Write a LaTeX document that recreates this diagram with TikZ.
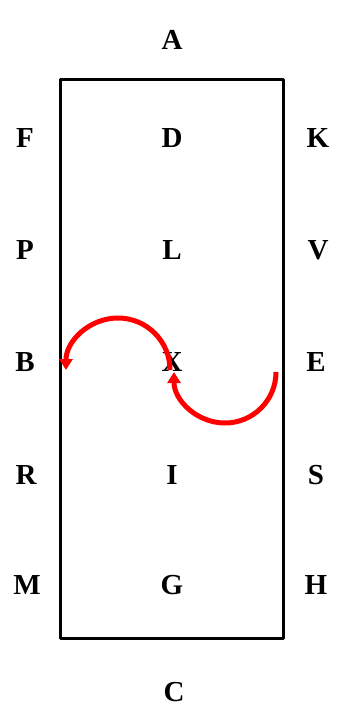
\documentclass[tikz,border=0pt]{standalone}
\usepackage{fontspec}
\setmainfont{Liberation Serif}
\usetikzlibrary{arrows.meta}
\begin{document}
\begin{tikzpicture}[x=1pt,y=-1pt,
  lab/.style={font=\fontsize{29}{32}\selectfont\bfseries, inner sep=0pt},
  redarc/.style={draw=red, line width=5pt, -{Triangle[width=13pt,length=11pt]}}]
\useasboundingbox (0,0) rectangle (342,719);
\draw[line width=3pt, line join=round] (60,80) rectangle (283,638);
\node[lab] (A) at (172,40) {A};
\node[lab] (F) at (25,138) {F};
\node[lab] (D) at (172,138) {D};
\node[lab] (K) at (318,138) {K};
\node[lab] (P) at (25,250) {P};
\node[lab] (L) at (172,250) {L};
\node[lab] (V) at (318,250) {V};
\node[lab] (B) at (25,362) {B};
\node[lab] (X) at (172,362) {X};
\node[lab] (E) at (316,362) {E};
\node[lab] (R) at (26,475) {R};
\node[lab] (I) at (172,475) {I};
\node[lab] (S) at (316,475) {S};
\node[lab] (M) at (27,585) {M};
\node[lab] (G) at (172,585) {G};
\node[lab] (H) at (316,585) {H};
\node[lab] (C) at (174,692) {C};
% arcs
\draw[redarc] (170,370) arc[start angle=0, end angle=180, x radius=52, y radius=-52];
\draw[redarc] (276,372) arc[start angle=0, end angle=-180, x radius=51, y radius=-51];
\end{tikzpicture}
\end{document}
